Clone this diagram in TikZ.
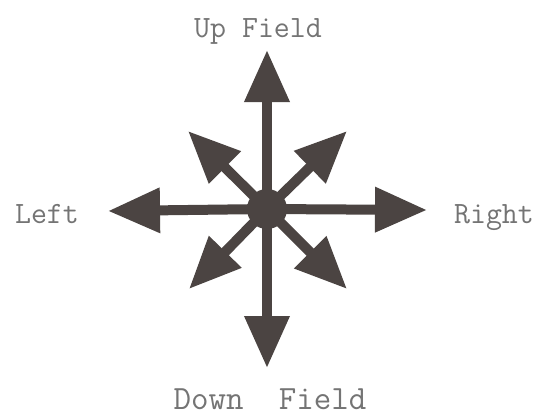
\documentclass[tikz,border=0pt]{standalone}
\usepackage{fontspec}
\usetikzlibrary{arrows.meta}
\definecolor{arrowgray}{HTML}{4B4442}
\definecolor{textgray}{HTML}{747474}
\begin{document}
\begin{tikzpicture}[x=1pt,y=-1pt,line cap=butt,font=\ttfamily\fontsize{31}{33}\selectfont]
\useasboundingbox (0,0) rectangle (542,416);
\tikzset{dirarrow/.style={draw=arrowgray,line width=10pt,-{Triangle[length=52pt,width=43pt]}},
	dirlabel/.style={text=textgray,inner sep=0pt,anchor=base}}
\coordinate (hub) at (267,209);
\coordinate (up) at (267,50);
\coordinate (down) at (267,368);
\coordinate (left) at (108,211);
\coordinate (right) at (427,210);
\coordinate (ul) at (188,131);
\coordinate (ur) at (347,131);
\coordinate (dl) at (189,289);
\coordinate (dr) at (347,289);
\foreach \t in {up,down,left,right,ul,ur,dl,dr}{\draw[dirarrow] (hub) -- (\t);}
\fill[arrowgray] (hub) circle (20);
\node[dirlabel] (uplabel) at (258,37) {Up Field};
\node[dirlabel] (leftlabel) at (47,223) {Left};
\node[dirlabel] (rightlabel) at (494,223) {Right};
\node[dirlabel,font=\ttfamily\fontsize{34}{36}\selectfont] (downlabel) at (270,409) {Down\ \ Field};
\end{tikzpicture}
\end{document}
